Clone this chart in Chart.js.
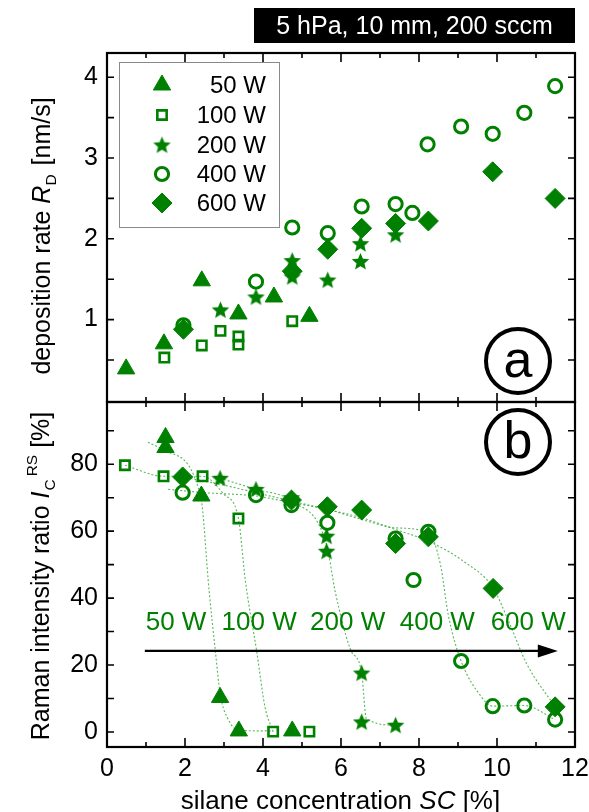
<!DOCTYPE html>
<html><head><meta charset="utf-8">
<script src="https://cdn.jsdelivr.net/npm/chart.js@4.4.1/dist/chart.umd.min.js"></script>
<style>
html,body{margin:0;padding:0;background:#fff;}
#wrap{position:relative;width:589px;height:812px;overflow:hidden;background:#fff;}
#cA{position:absolute;left:0;top:0;}
#cB{position:absolute;left:0;top:400px;}
</style></head><body>
<div id="wrap">
<canvas id="cA" width="589" height="404"></canvas>
<canvas id="cB" width="589" height="412"></canvas>
</div>
<script>
// ---------- data ----------
const seriesLabels = ['50 W', '100 W', '200 W', '400 W', '600 W'];

// panel (a): deposition rate R_D [nm/s] vs SC [%]
const rateX50  = [0.49, 1.46, 2.43, 3.37, 4.28, 5.19];
const rateY50  = [0.39, 0.70, 1.48, 1.07, 1.28, 1.04];
const rateX100 = [1.47, 2.43, 2.91, 3.37, 3.37, 4.75];
const rateY100 = [0.53, 0.68, 0.86, 0.79, 0.69, 0.98];
const rateX200 = [2.91, 3.82, 4.75, 4.75, 5.66, 6.50, 6.50, 7.40];
const rateY200 = [1.12, 1.28, 1.73, 1.53, 1.49, 1.94, 1.72, 2.05];
const rateX400 = [1.96, 3.82, 4.75, 5.66, 6.53, 7.40, 7.83, 8.22, 9.08, 9.89, 10.70, 11.49];
const rateY400 = [0.93, 1.47, 2.14, 2.07, 2.40, 2.43, 2.32, 3.17, 3.39, 3.30, 3.56, 3.89];
const rateX600 = [1.96, 4.75, 5.66, 6.53, 7.40, 8.24, 9.89, 11.49];
const rateY600 = [0.88, 1.60, 1.87, 2.13, 2.19, 2.22, 2.83, 2.50];

// panel (b): Raman intensity ratio I_C^RS [%] vs SC [%]
const ramanX50  = [1.50, 1.50, 2.42, 2.90, 3.38, 4.75];
const ramanY50  = [88.0, 85.0, 70.5, 10.3, 0.3, 0.3];
const ramanX100 = [0.46, 1.45, 2.45, 3.37, 4.26, 5.19];
const ramanY100 = [79.7, 76.4, 76.4, 63.8, 0.1, 0.1];
const ramanX200 = [2.90, 3.82, 4.73, 5.63, 5.63, 6.53, 6.53, 7.40];
const ramanY200 = [75.8, 72.5, 70.0, 58.5, 54.0, 17.6, 3.0, 2.0];
const ramanX400 = [1.94, 3.82, 4.73, 5.65, 7.40, 7.86, 8.24, 9.08, 9.89, 10.70, 11.49];
const ramanY400 = [71.5, 70.8, 67.8, 62.5, 57.8, 45.4, 59.8, 21.2, 7.7, 7.9, 3.7];
const ramanX600 = [1.94, 4.73, 5.65, 6.53, 7.40, 8.24, 9.90, 11.49];
const ramanY600 = [76.2, 69.3, 67.3, 66.3, 56.3, 58.3, 42.9, 7.5];

// dotted guide curves in panel (b)
const guideX50  = [1.05, 1.50, 2.40, 2.62, 2.78, 2.90, 3.12, 3.38, 4.26];
const guideY50  = [86.6, 84.0, 70.5, 42.0, 24.0, 11.5, 3.5, 0.5, 0.3];
const guideX100 = [0.46, 1.45, 2.45, 3.00, 3.37, 3.55, 3.84, 4.05, 4.26];
const guideY100 = [79.7, 76.4, 76.4, 71.0, 63.8, 45.0, 24.0, 7.5, 0.0];
const guideX200 = [2.90, 3.82, 4.73, 5.63, 5.85, 6.23, 6.53, 6.65, 7.40];
const guideY200 = [75.8, 72.5, 69.0, 56.0, 42.0, 25.0, 17.6, 4.0, 2.0];
const guideX400 = [1.57, 2.50, 3.82, 4.73, 5.65, 6.53, 7.40, 8.24, 8.55, 8.75, 9.08, 9.60, 9.89, 10.70, 11.49];
const guideY400 = [72.5, 71.5, 70.5, 68.5, 66.5, 63.5, 61.0, 59.5, 50.0, 35.0, 21.2, 10.5, 7.7, 7.9, 3.7];
const guideX600 = [1.94, 2.90, 3.82, 4.73, 5.65, 6.53, 7.40, 8.24, 9.14, 9.90, 10.30, 10.76, 11.49];
const guideY600 = [76.2, 74.0, 71.5, 69.0, 66.5, 64.0, 60.5, 57.0, 51.0, 43.0, 33.0, 20.4, 7.5];

// ticks
const xTickLabels = [0, 2, 4, 6, 8, 10, 12];
const rateTickLabels = [1, 2, 3, 4];
const ramanTickLabels = [0, 20, 40, 60, 80];
const xTickMarks = [1, 2, 3, 4, 5, 6, 7, 8, 9, 10, 11];
const rateTickMarks = [0.5, 1, 1.5, 2, 2.5, 3, 3.5, 4];
const ramanTickMarks = [0, 10, 20, 30, 40, 50, 60, 70, 80, 90];

// ---------- styling ----------
const G = '#008000';
const GUIDE = 'rgba(60,170,60,0.85)';
const FONT = '"Liberation Sans", Arial, sans-serif';

function makeStar(R) {
  const s = Math.ceil(R * 2) + 2;
  const c = document.createElement('canvas');
  c.width = s; c.height = s;
  const x = c.getContext('2d');
  x.fillStyle = G;
  x.beginPath();
  for (let i = 0; i < 10; i++) {
    const r = i % 2 === 0 ? R : R * 0.45;
    const a = -Math.PI / 2 + i * Math.PI / 5;
    const px = s / 2 + r * Math.cos(a), py = s / 2 + 0.6 + r * Math.sin(a);
    if (i === 0) x.moveTo(px, py); else x.lineTo(px, py);
  }
  x.closePath(); x.fill();
  return c;
}
const starImg = makeStar(9.2);

const markers = [
  { pointStyle: 'triangle', pointRadius: 10, backgroundColor: G, borderColor: G, borderWidth: 1 },
  { pointStyle: 'rect', pointRadius: 6.6, backgroundColor: 'rgba(255,255,255,0)', borderColor: G, borderWidth: 2.6 },
  { pointStyle: starImg, pointRadius: 9, backgroundColor: G, borderColor: G, borderWidth: 0 },
  { pointStyle: 'circle', pointRadius: 6.6, backgroundColor: 'rgba(255,255,255,0)', borderColor: G, borderWidth: 3 },
  { pointStyle: 'rectRot', pointRadius: 10, backgroundColor: G, borderColor: G, borderWidth: 1 }
];

function pts(xs, ys) { return xs.map((v, i) => ({ x: v, y: ys[i] })); }

function markerSet(label, xs, ys, k) {
  return Object.assign({ label, data: pts(xs, ys), showLine: false, clip: false, order: 1 }, markers[k],
    { pointHoverRadius: markers[k].pointRadius });
}
function guideSet(xs, ys) {
  return { label: '', data: pts(xs, ys), showLine: true, pointRadius: 0, borderColor: GUIDE,
    borderWidth: 1.1, borderDash: [2, 2], cubicInterpolationMode: 'monotone', fill: false, order: 10 };
}

function noPad(s) { s.paddingTop = 0; s.paddingBottom = 0; s.paddingLeft = 0; s.paddingRight = 0; }

function frameAndTicks(chart, yMarks) {
  const { ctx, chartArea: a, scales: { x, y } } = chart;
  ctx.save();
  ctx.strokeStyle = '#000';
  ctx.lineWidth = 1.6;
  ctx.beginPath();
  xTickMarks.forEach(v => {
    const px = x.getPixelForValue(v);
    const L = v % 2 === 0 ? 9 : 5;
    ctx.moveTo(px, a.top); ctx.lineTo(px, a.top + L);
    ctx.moveTo(px, a.bottom); ctx.lineTo(px, a.bottom - L);
  });
  yMarks.forEach(v => {
    const py = y.getPixelForValue(v);
    ctx.moveTo(a.left, py); ctx.lineTo(a.left + 7, py);
    ctx.moveTo(a.right, py); ctx.lineTo(a.right - 7, py);
  });
  ctx.stroke();
  ctx.lineWidth = 2.2;
  ctx.strokeRect(a.left, a.top, a.right - a.left, a.bottom - a.top);
  ctx.restore();
}

function richWidth(ctx, parts, size) {
  let w = 0;
  parts.forEach(p => {
    const fs = p.shift ? size * 0.62 : size;
    ctx.font = (p.italic ? 'italic ' : '') + fs + 'px ' + FONT;
    w += ctx.measureText(p.t).width + (p.gap || 0);
  });
  return w;
}
function drawRich(ctx, parts, size, x, y, rotate) {
  ctx.save();
  ctx.translate(x, y);
  if (rotate) ctx.rotate(-Math.PI / 2);
  ctx.fillStyle = '#000';
  ctx.textBaseline = 'alphabetic';
  ctx.textAlign = 'left';
  const w = richWidth(ctx, parts, size);
  let cx = -w / 2;
  parts.forEach(p => {
    const fs = p.shift ? size * 0.62 : size;
    ctx.font = (p.italic ? 'italic ' : '') + fs + 'px ' + FONT;
    const dy = p.shift === 'sub' ? size * 0.22 : p.shift === 'sup' ? -size * 0.5 : 0;
    ctx.fillText(p.t, cx, dy);
    cx += ctx.measureText(p.t).width + (p.gap || 0);
  });
  ctx.restore();
}

function circledLetter(ctx, letter, cx, cy) {
  ctx.save();
  ctx.strokeStyle = '#000'; ctx.lineWidth = 4;
  ctx.beginPath(); ctx.arc(cx, cy, 32, 0, Math.PI * 2); ctx.stroke();
  ctx.fillStyle = '#000';
  ctx.font = '52px ' + FONT;
  ctx.textAlign = 'center'; ctx.textBaseline = 'middle';
  ctx.fillText(letter, cx, cy + 2);
  ctx.restore();
}

const tickFont = { family: FONT, size: 25 };

// ---------- chart (a) ----------
const plugA = {
  id: 'decorA',
  afterDraw(chart) {
    const ctx = chart.ctx;
    frameAndTicks(chart, rateTickMarks);
    ctx.save();
    ctx.fillStyle = '#000';
    ctx.fillRect(254, 8, 321, 35);
    ctx.fillStyle = '#fff';
    ctx.font = '25px ' + FONT;
    ctx.textAlign = 'center'; ctx.textBaseline = 'middle';
    ctx.fillText('5 hPa, 10 mm, 200 sccm', 414.5, 27);
    ctx.restore();
    ctx.save();
    ctx.strokeStyle = '#8a8a8a'; ctx.lineWidth = 1;
    ctx.strokeRect(119.5, 62.5, 160, 165);
    const rows = [85, 115, 145, 174, 203];
    chart.data.datasets.forEach((ds, i) => {
      if (i >= 5) return;
      ctx.save();
      ctx.fillStyle = ds.backgroundColor; ctx.strokeStyle = ds.borderColor; ctx.lineWidth = ds.borderWidth;
      Chart.helpers.drawPoint(ctx, { pointStyle: ds.pointStyle, radius: ds.pointRadius, borderWidth: ds.borderWidth, rotation: 0 }, 162, rows[i]);
      ctx.restore();
      ctx.fillStyle = '#000';
      ctx.font = '24px ' + FONT;
      ctx.textAlign = 'right'; ctx.textBaseline = 'middle';
      ctx.fillText(ds.label, 266, rows[i] + 1);
    });
    ctx.restore();
    circledLetter(ctx, 'a', 518, 361);
    drawRich(ctx, [
      { t: 'deposition rate ' }, { t: 'R', italic: true }, { t: 'D', shift: 'sub', gap: 2 }, { t: ' [nm/s]' }
    ], 25, 50, 236, true);
  }
};

new Chart(document.getElementById('cA'), {
  type: 'scatter',
  data: {
    datasets: [
      markerSet(seriesLabels[0], rateX50, rateY50, 0),
      markerSet(seriesLabels[1], rateX100, rateY100, 1),
      markerSet(seriesLabels[2], rateX200, rateY200, 2),
      markerSet(seriesLabels[3], rateX400, rateY400, 3),
      markerSet(seriesLabels[4], rateX600, rateY600, 4)
    ]
  },
  options: {
    responsive: false, animation: false,
    layout: { autoPadding: false, padding: { left: 0, right: 14, top: 53, bottom: 2 } },
    plugins: { legend: { display: false }, tooltip: { enabled: false } },
    scales: {
      x: { type: 'linear', min: 0, max: 12, display: false },
      y: {
        type: 'linear', min: -0.02, max: 4.3,
        grid: { display: false, drawTicks: false }, border: { display: false },
        afterFit: s => { s.width = 107; noPad(s); },
        afterBuildTicks: s => { s.ticks = rateTickLabels.map(v => ({ value: v })); },
        ticks: { font: tickFont, color: '#000', padding: 9, callback: v => String(v) }
      }
    }
  },
  plugins: [plugA]
});

// ---------- chart (b) ----------
const powerLabelPos = [[1.77, 32.6], [3.90, 32.6], [6.17, 32.6], [8.47, 32.6], [10.80, 32.6]];
const plugB = {
  id: 'decorB',
  afterDraw(chart) {
    const { ctx, scales: { x, y } } = chart;
    frameAndTicks(chart, ramanTickMarks);
    const x0 = x.getPixelForValue(0.97), x1 = x.getPixelForValue(11.56), ya = y.getPixelForValue(24.2);
    ctx.save();
    ctx.strokeStyle = '#000'; ctx.fillStyle = '#000'; ctx.lineWidth = 2.2;
    ctx.beginPath(); ctx.moveTo(x0, ya); ctx.lineTo(x1 - 15, ya); ctx.stroke();
    ctx.beginPath(); ctx.moveTo(x1, ya); ctx.lineTo(x1 - 20, ya - 6.5); ctx.lineTo(x1 - 20, ya + 6.5); ctx.closePath(); ctx.fill();
    ctx.fillStyle = G; ctx.font = '26px ' + FONT;
    ctx.textAlign = 'center'; ctx.textBaseline = 'middle';
    seriesLabels.forEach((t, i) => {
      ctx.fillText(t, x.getPixelForValue(powerLabelPos[i][0]), y.getPixelForValue(powerLabelPos[i][1]));
    });
    ctx.restore();
    circledLetter(ctx, 'b', 518, 42);
    drawRich(ctx, [
      { t: 'Raman intensity ratio ' }, { t: 'I', italic: true, gap: 1 }, { t: 'C', shift: 'sub', gap: 3 },
      { t: 'RS', shift: 'sup', gap: 0 }, { t: ' [%]' }
    ], 25, 49, 176, true);
    drawRich(ctx, [
      { t: 'silane concentration ' }, { t: 'SC', italic: true }, { t: ' [%]' }
    ], 26, 340.5, 409, false);
  }
};

new Chart(document.getElementById('cB'), {
  type: 'scatter',
  data: {
    datasets: [
      markerSet(seriesLabels[0], ramanX50, ramanY50, 0),
      markerSet(seriesLabels[1], ramanX100, ramanY100, 1),
      markerSet(seriesLabels[2], ramanX200, ramanY200, 2),
      markerSet(seriesLabels[3], ramanX400, ramanY400, 3),
      markerSet(seriesLabels[4], ramanX600, ramanY600, 4),
      guideSet(guideX50, guideY50),
      guideSet(guideX100, guideY100),
      guideSet(guideX200, guideY200),
      guideSet(guideX400, guideY400),
      guideSet(guideX600, guideY600)
    ]
  },
  options: {
    responsive: false, animation: false,
    layout: { autoPadding: false, padding: { left: 0, right: 14, top: 2, bottom: 0 } },
    plugins: { legend: { display: false }, tooltip: { enabled: false } },
    scales: {
      x: {
        type: 'linear', min: 0, max: 12,
        grid: { display: false, drawTicks: false }, border: { display: false },
        afterFit: s => { s.height = 65; noPad(s); },
        afterBuildTicks: s => { s.ticks = xTickLabels.map(v => ({ value: v })); },
        ticks: { font: tickFont, color: '#000', padding: 7, maxRotation: 0, autoSkip: false, callback: v => String(v) }
      },
      y: {
        type: 'linear', min: -4.5, max: 98.6,
        grid: { display: false, drawTicks: false }, border: { display: false },
        afterFit: s => { s.width = 107; noPad(s); },
        afterBuildTicks: s => { s.ticks = ramanTickLabels.map(v => ({ value: v })); },
        ticks: { font: tickFont, color: '#000', padding: 9, callback: v => String(v) }
      }
    }
  },
  plugins: [plugB]
});
</script>
</body></html>
